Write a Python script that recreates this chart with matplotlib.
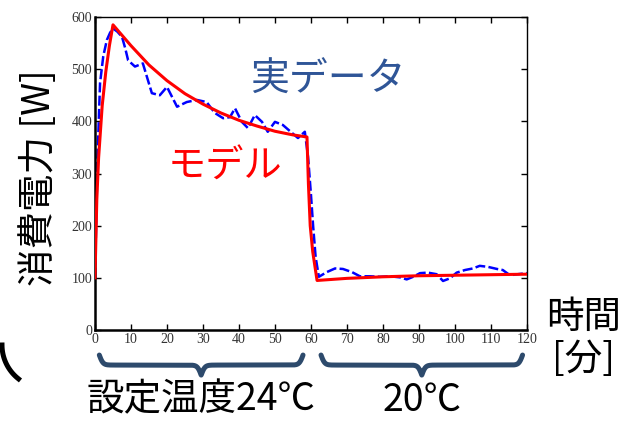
import matplotlib
matplotlib.use("Agg")
import matplotlib.pyplot as plt
from matplotlib.lines import Line2D
import numpy as np

plt.rcParams['font.family'] = ['Noto Sans CJK JP', 'DejaVu Sans']

# measured power (blue dashed)
real_t = [0, 0.7, 1.4, 2.3, 3.3, 4.2, 5.0, 6.2, 7.5, 8.4, 9.2, 11.1, 13.3, 15.8, 18.0,
          20.0, 22.8, 25.5, 28.3, 31.0, 33.3, 35.6, 37.5, 38.9, 40.8, 42.5, 44.4,
          46.4, 48.0, 50.0, 52.2, 54.7, 56.4, 58.3, 59.2, 60.0, 60.6, 61.3, 62.2,
          64.4, 66.7, 68.9, 71.4, 73.6, 76.4, 79.2, 81.9, 84.7, 86.6, 88.4, 90.3,
          92.5, 94.9, 96.7, 98.6, 100.5, 102.8, 105.0, 106.9, 109.2, 111.7, 113.3,
          115.3, 117.5, 120.0]
real_p = [100, 330, 473, 525, 556, 570, 578, 572, 562, 540, 517, 505, 511, 454, 450,
          466, 428, 437, 441, 437, 416, 406, 408, 425, 399, 387, 412,
          399, 380, 399, 393, 378, 368, 380, 332, 260, 200, 140, 102,
          111, 118, 117, 111, 103, 103, 102, 103, 101, 97, 102, 109,
          110, 107, 94, 99, 110, 115, 118, 123, 121, 117, 115,
          105, 107, 109]

# model (red)
model_t = [0, 0.5, 1, 2, 3, 4, 5, 10, 15, 20, 25, 30, 35, 40, 45, 50, 55, 58.9,
           59.3, 59.8, 60.5, 61.7, 70, 80, 90, 100, 110, 120]
model_p = [100, 250, 330, 430, 495, 545, 585, 545, 508, 478, 453, 433, 416, 402, 391,
           381, 374, 370, 280, 200, 150, 95, 99, 102, 104, 105, 106, 107]

x_ticks = list(range(0, 121, 10))
y_ticks = list(range(0, 601, 100))

brace_spans = [(1.2, 57.8), (62.8, 118.8)]
brace_labels = ["設定温度24℃", "20℃"]

fig = plt.figure(figsize=(6.25, 4.25), dpi=100)
ax = fig.add_axes([0.152, 0.2235, 0.691, 0.7365])

ax.plot(model_t, model_p, color="red", lw=2.2, zorder=3)
ax.plot(real_t, real_p, color="blue", lw=1.8, ls=(0, (4, 1.3)), zorder=2)

ax.set_xlim(0, 120)
ax.set_ylim(0, 600)
ax.set_xticks(x_ticks)
ax.set_yticks(y_ticks)
ax.tick_params(direction="in", length=4, width=1, top=True, right=True,
               labelright=False, labeltop=False, pad=2, labelsize=10,
               labelcolor="#333333")
for lab in ax.get_xticklabels() + ax.get_yticklabels():
    lab.set_family("Liberation Serif")
ax.spines["left"].set_linewidth(1.8)
ax.spines["bottom"].set_linewidth(1.8)
ax.spines["top"].set_linewidth(1.0)
ax.spines["right"].set_linewidth(1.0)

ax.text(0.54, 0.80, "実データ", transform=ax.transAxes, fontsize=28,
        color="#2F5597", ha="center", va="center")
ax.text(0.30, 0.52, "モデル", transform=ax.transAxes, fontsize=27.5,
        color="red", ha="center", va="center")

fig.text(0.064, 0.583, "消費電力 [W]", rotation=90, fontsize=27,
         ha="center", va="center")
fig.text(0.934, 0.252, "時間", fontsize=27, ha="center", va="center")
fig.text(0.934, 0.153, "[分]", fontsize=27, ha="center", va="center")

# stray stroke at the lower left edge
ang = np.radians(np.linspace(180, 232, 30))
arc_x = (45 + 43 * np.cos(ang)) / 625
arc_y = 1 - (345 - 43 * np.sin(ang)) / 425
fig.add_artist(Line2D(arc_x, arc_y, color="black", lw=3.6,
                      transform=fig.transFigure))


def brace(ax, x0, x1, ytop, depth, label):
    n = 401
    s = np.linspace(0, 1, n)
    beta = 110.0
    half = s[: n // 2 + 1]
    yh = 1 / (1 + np.exp(-beta * (half - half[0]))) + 1 / (1 + np.exp(-beta * (half - half[-1])))
    yy = np.concatenate([yh, yh[-2::-1]])
    yy = yy - yy.min()
    yy = yy / yy.max()
    xx = x0 + s * (x1 - x0)
    ax.plot(xx, ytop - depth * yy, color="#2D4A6C", lw=3.6,
            solid_capstyle="round", transform=ax.get_xaxis_transform(),
            clip_on=False)
    ax.text((x0 + x1) / 2, -0.224, label, fontsize=27,
            ha="center", va="center", transform=ax.get_xaxis_transform())


for (a, b), lab in zip(brace_spans, brace_labels):
    brace(ax, a, b, -0.08, 0.064, lab)

fig.savefig("out.png", dpi=100)
